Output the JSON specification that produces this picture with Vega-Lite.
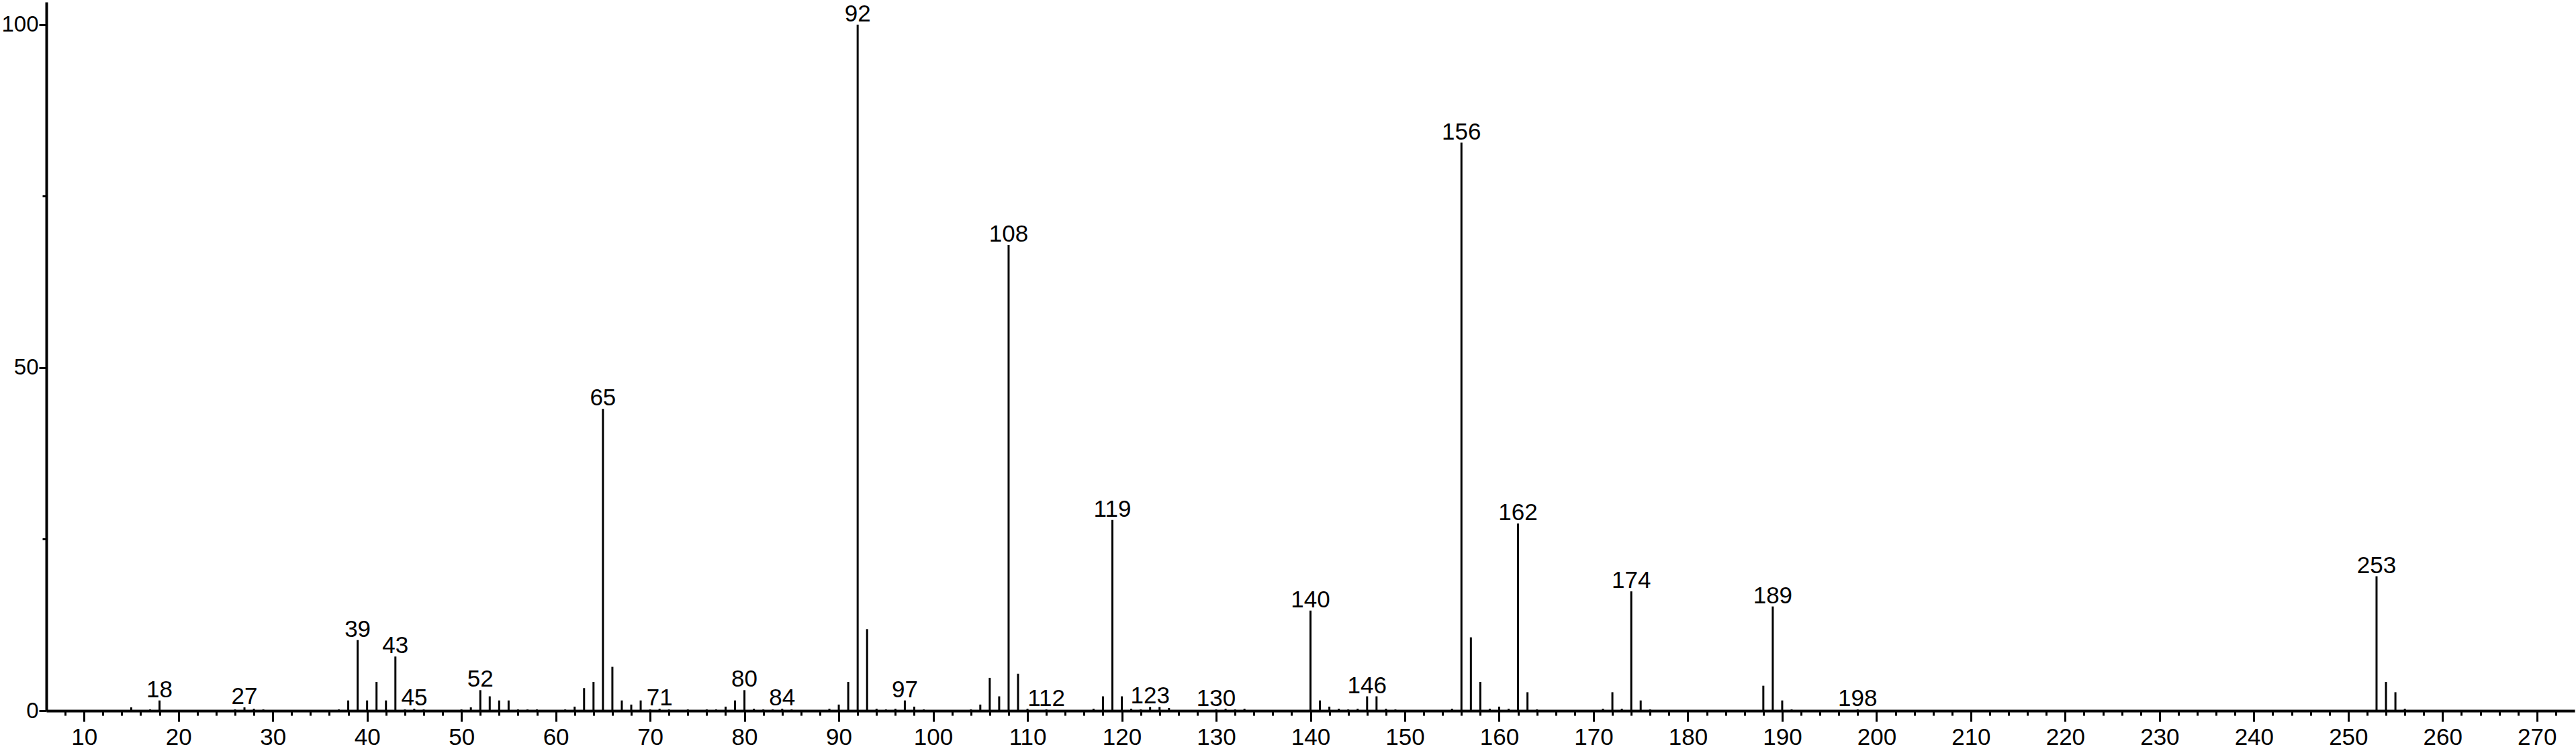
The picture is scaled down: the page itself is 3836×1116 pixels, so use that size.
{
  "$schema": "https://vega.github.io/schema/vega-lite/v6.json",
  "width": 3765,
  "height": 1056,
  "autosize": {"type": "none"},
  "padding": {"left": 69, "top": 3, "right": 2, "bottom": 57},
  "background": "white",
  "config": {"view": {"stroke": null}, "font": "Liberation Sans"},
  "data": {"values": [
    {"mz": 15, "intensity": 0.5}, {"mz": 17, "intensity": 0.2}, {"mz": 18, "intensity": 1.5, "tag": "18"},
    {"mz": 26, "intensity": 0.2}, {"mz": 27, "intensity": 0.5, "tag": "27"}, {"mz": 28, "intensity": 0.3}, {"mz": 29, "intensity": 0.2},
    {"mz": 37, "intensity": 0.2}, {"mz": 38, "intensity": 1.5}, {"mz": 39, "intensity": 10.3, "tag": "39"}, {"mz": 40, "intensity": 1.5},
    {"mz": 41, "intensity": 4.2}, {"mz": 42, "intensity": 1.5}, {"mz": 43, "intensity": 7.9, "tag": "43"}, {"mz": 44, "intensity": 0.2},
    {"mz": 45, "intensity": 0.3, "tag": "45"}, {"mz": 46, "intensity": 0.2}, {"mz": 50, "intensity": 0.2}, {"mz": 51, "intensity": 0.5},
    {"mz": 52, "intensity": 3.0, "tag": "52"}, {"mz": 53, "intensity": 2.1}, {"mz": 54, "intensity": 1.5}, {"mz": 55, "intensity": 1.5},
    {"mz": 56, "intensity": 0.2}, {"mz": 57, "intensity": 0.2}, {"mz": 58, "intensity": 0.2}, {"mz": 61, "intensity": 0.2},
    {"mz": 62, "intensity": 0.6}, {"mz": 63, "intensity": 3.3}, {"mz": 64, "intensity": 4.2}, {"mz": 65, "intensity": 44.0, "tag": "65"},
    {"mz": 66, "intensity": 6.4}, {"mz": 67, "intensity": 1.5}, {"mz": 68, "intensity": 0.9}, {"mz": 69, "intensity": 1.5},
    {"mz": 70, "intensity": 0.2}, {"mz": 71, "intensity": 0.3, "tag": "71"}, {"mz": 72, "intensity": 0.2}, {"mz": 74, "intensity": 0.2},
    {"mz": 76, "intensity": 0.2}, {"mz": 77, "intensity": 0.2}, {"mz": 78, "intensity": 0.6}, {"mz": 79, "intensity": 1.5},
    {"mz": 80, "intensity": 3.0, "tag": "80"}, {"mz": 81, "intensity": 0.3}, {"mz": 82, "intensity": 0.2}, {"mz": 83, "intensity": 0.2},
    {"mz": 84, "intensity": 0.3, "tag": "84"}, {"mz": 85, "intensity": 0.2}, {"mz": 89, "intensity": 0.3}, {"mz": 90, "intensity": 0.9},
    {"mz": 91, "intensity": 4.2}, {"mz": 92, "intensity": 100, "tag": "92"}, {"mz": 93, "intensity": 11.9}, {"mz": 94, "intensity": 0.3},
    {"mz": 95, "intensity": 0.2}, {"mz": 96, "intensity": 0.3}, {"mz": 97, "intensity": 1.5, "tag": "97"}, {"mz": 98, "intensity": 0.6},
    {"mz": 99, "intensity": 0.2}, {"mz": 104, "intensity": 0.2}, {"mz": 105, "intensity": 0.9}, {"mz": 106, "intensity": 4.8},
    {"mz": 107, "intensity": 2.1}, {"mz": 108, "intensity": 67.9, "tag": "108"}, {"mz": 109, "intensity": 5.4}, {"mz": 110, "intensity": 0.3},
    {"mz": 112, "intensity": 0.2, "tag": "112"}, {"mz": 117, "intensity": 0.3}, {"mz": 118, "intensity": 2.1}, {"mz": 119, "intensity": 27.8, "tag": "119"},
    {"mz": 120, "intensity": 2.1}, {"mz": 121, "intensity": 0.3}, {"mz": 122, "intensity": 0.2}, {"mz": 123, "intensity": 0.55, "tag": "123"},
    {"mz": 124, "intensity": 0.55}, {"mz": 125, "intensity": 0.4}, {"mz": 130, "intensity": 0.2, "tag": "130"}, {"mz": 131, "intensity": 0.3},
    {"mz": 132, "intensity": 0.2}, {"mz": 133, "intensity": 0.3}, {"mz": 140, "intensity": 14.6, "tag": "140"}, {"mz": 141, "intensity": 1.5},
    {"mz": 142, "intensity": 0.6}, {"mz": 143, "intensity": 0.3}, {"mz": 144, "intensity": 0.2}, {"mz": 145, "intensity": 0.3},
    {"mz": 146, "intensity": 2.1, "tag": "146"}, {"mz": 147, "intensity": 2.1}, {"mz": 148, "intensity": 0.3}, {"mz": 149, "intensity": 0.2},
    {"mz": 155, "intensity": 0.3}, {"mz": 156, "intensity": 82.8, "tag": "156"}, {"mz": 157, "intensity": 10.7}, {"mz": 158, "intensity": 4.2},
    {"mz": 159, "intensity": 0.3}, {"mz": 160, "intensity": 0.6}, {"mz": 161, "intensity": 0.3}, {"mz": 162, "intensity": 27.3, "tag": "162"},
    {"mz": 163, "intensity": 2.7}, {"mz": 164, "intensity": 0.2}, {"mz": 171, "intensity": 0.3}, {"mz": 172, "intensity": 2.7},
    {"mz": 173, "intensity": 0.3}, {"mz": 174, "intensity": 17.4, "tag": "174"}, {"mz": 175, "intensity": 1.5}, {"mz": 176, "intensity": 0.2},
    {"mz": 188, "intensity": 3.65}, {"mz": 189, "intensity": 15.2, "tag": "189"}, {"mz": 190, "intensity": 1.5}, {"mz": 191, "intensity": 0.2},
    {"mz": 198, "intensity": 0.2, "tag": "198"}, {"mz": 253, "intensity": 19.6, "tag": "253"}, {"mz": 254, "intensity": 4.2},
    {"mz": 255, "intensity": 2.7}, {"mz": 256, "intensity": 0.3}
  ]},
  "resolve": {"axis": {"x": "independent", "y": "independent"}},
  "layer": [
    {
      "mark": {"type": "rule", "stroke": "black", "strokeWidth": 3},
      "encoding": {
        "x": {
          "field": "mz", "type": "quantitative",
          "scale": {"domain": [6, 274], "nice": false, "zero": false},
          "axis": {
            "orient": "bottom", "title": null, "grid": false,
            "values": [10,20,30,40,50,60,70,80,90,100,110,120,130,140,150,160,170,180,190,200,210,220,230,240,250,260,270],
            "domainColor": "black", "domainWidth": 4,
            "tickColor": "black", "tickWidth": 3, "tickSize": 16,
            "labelFontSize": 35, "labelColor": "black", "labelPadding": 6,
            "labelOverlap": false, "labelFlush": false, "labelFont": "Liberation Sans"
          }
        },
        "y": {
          "field": "intensity", "type": "quantitative",
          "scale": {"domain": [0, 103.3], "nice": false},
          "axis": {
            "orient": "left", "title": null, "grid": false,
            "values": [0, 50, 100],
            "domainColor": "black", "domainWidth": 4,
            "tickColor": "black", "tickWidth": 3, "tickSize": 11,
            "labelFontSize": 33, "labelColor": "black", "labelPadding": 1,
            "labelOverlap": false, "labelFlush": false, "labelFont": "Liberation Sans"
          }
        },
        "y2": {"datum": 0}
      }
    },
    {
      "transform": [{"filter": "datum.tag != null"}],
      "mark": {"type": "text", "baseline": "alphabetic", "dy": -5, "fontSize": 35, "font": "Liberation Sans", "color": "black"},
      "encoding": {
        "x": {
          "field": "mz", "type": "quantitative",
          "axis": {
            "orient": "bottom", "title": null, "grid": false, "domain": false, "labels": false,
            "values": [8,12,14,16,18,22,24,26,28,32,34,36,38,42,44,46,48,52,54,56,58,62,64,66,68,72,74,76,78,82,84,86,88,92,94,96,98,102,104,106,108,112,114,116,118,122,124,126,128,132,134,136,138,142,144,146,148,152,154,156,158,162,164,166,168,172,174,176,178,182,184,186,188,192,194,196,198,202,204,206,208,212,214,216,218,222,224,226,228,232,234,236,238,242,244,246,248,252,254,256,258,262,264,266,268,272],
            "tickColor": "black", "tickWidth": 3, "tickSize": 7
          }
        },
        "y": {
          "field": "intensity", "type": "quantitative",
          "axis": {
            "orient": "left", "title": null, "grid": false, "domain": false, "labels": false,
            "values": [25, 75],
            "tickColor": "black", "tickWidth": 3, "tickSize": 6
          }
        },
        "text": {"field": "tag"}
      }
    }
  ]
}
